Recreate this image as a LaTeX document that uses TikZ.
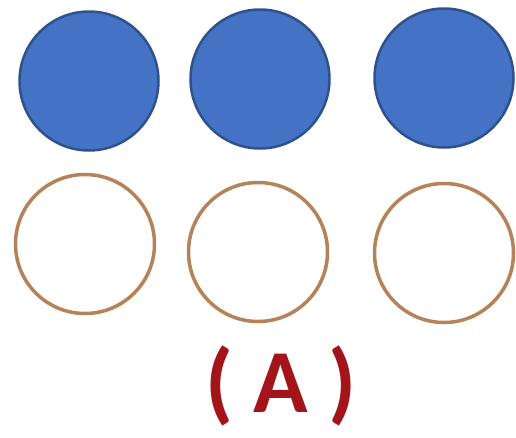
\documentclass[tikz,border=0pt]{standalone}
\usepackage{fontspec}
\setsansfont{Carlito}
\usepackage{tikz}
\usetikzlibrary{positioning}
\definecolor{dotblue}{HTML}{4472C4}
\definecolor{dotedge}{HTML}{2F528F}
\definecolor{ringtan}{HTML}{B5835A}
\definecolor{labelred}{HTML}{A3141B}

\begin{document}
\begin{tikzpicture}[x=1pt, y=-1pt,
  fulldot/.style={circle, fill=dotblue, draw=dotedge, line width=2.5pt, minimum size=139pt, inner sep=0pt},
  emptydot/.style={circle, draw=ringtan, line width=3.5pt, minimum size=139pt, inner sep=0pt}]
  \useasboundingbox[fill=white] (0,0) rectangle (516,437);
  % top row: filled circles
  \node[fulldot] (full1) at (89,81) {};
  \node[fulldot] (full2) at (260,79) {};
  \node[fulldot] (full3) at (444,78) {};
  % bottom row: empty rings
  \node[emptydot] (empty1) at (85,244) {};
  \node[emptydot] (empty2) at (258,252) {};
  \node[emptydot] (empty3) at (444,253) {};
  % label
  \node[text=labelred, font=\sffamily\bfseries\fontsize{90}{90}\selectfont] (caption) at (281,386) {( A )};
\end{tikzpicture}
\end{document}
